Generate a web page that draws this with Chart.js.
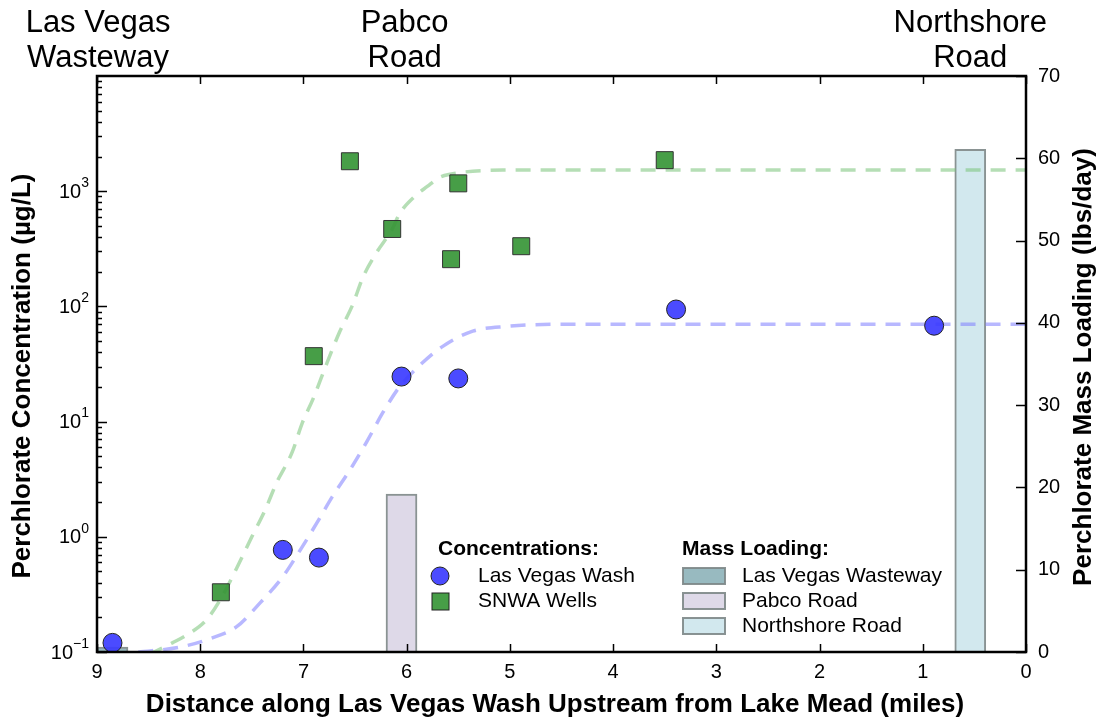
<!DOCTYPE html>
<html>
<head>
<meta charset="utf-8">
<script src="https://cdn.jsdelivr.net/npm/chart.js@4.4.0/dist/chart.umd.min.js"></script>
<style>
  html, body { margin: 0; padding: 0; background: #fff; }
  #wrap { width: 1100px; height: 721px; }
</style>
</head>
<body>
<div id="wrap"><canvas id="chart"></canvas></div>
<script>
const FONT = '"Liberation Sans", Arial, sans-serif';

// Concentrations (ug/L) vs distance upstream (miles)
const washX = [8.85, 7.2, 6.85, 6.05, 5.5, 3.39, 0.89];
const washY = [0.12, 0.77, 0.66, 24.6, 23.7, 94, 68];
const wellsX = [7.8, 6.9, 6.55, 6.14, 5.57, 5.5, 4.89, 3.5];
const wellsY = [0.33, 37, 1820, 470, 257, 1170, 333, 1860];

// dashed fitted curves
const wellsFitX = [8.5, 8.27, 8.1, 7.94, 7.81, 7.64, 7.5, 7.37, 7.26, 7.11, 7.01, 6.91, 6.77, 6.65, 6.53, 6.42, 6.29, 6.14, 6.07, 5.92, 5.8, 5.68, 5.58, 5.36, 5.07, 4.5, 0];
const wellsFitY = [0.095, 0.12, 0.146, 0.19, 0.28, 0.55, 1.0, 1.72, 2.95, 5.4, 9.8, 15.5, 32.6, 60, 100, 182, 295, 468, 635, 905, 1100, 1320, 1405, 1490, 1525, 1530, 1530];
const washFitX = [8.6, 8.2, 7.89, 7.65, 7.42, 7.2, 7.03, 6.87, 6.72, 6.55, 6.39, 6.23, 6.07, 5.87, 5.65, 5.36, 5.03, 4.5, 0];
const washFitY = [0.1, 0.11, 0.132, 0.165, 0.267, 0.45, 0.77, 1.32, 2.23, 3.8, 6.6, 12, 20, 31, 45, 61, 67, 70, 70];

// mass loading (lbs/day)
const massNames = ['Las Vegas Wasteway', 'Pabco Road', 'Northshore Road'];
const massX = [8.85, 6.05, 0.54];
const massLoad = [0.6, 19.2, 61.1];
const massFill = ['rgb(152,186,192)', 'rgb(222,217,232)', 'rgb(210,232,238)'];

// site labels on top
const siteNames = [['Las Vegas', 'Wasteway'], ['Pabco', 'Road'], ['Northshore', 'Road']];
const siteX = [8.99, 6.02, 0.54];

// ticks
const xTicks = [9, 8, 7, 6, 5, 4, 3, 2, 1, 0];
const yTicks = [0.1, 1, 10, 100, 1000];
const y2Ticks = [0, 10, 20, 30, 40, 50, 60, 70];

const washColor = 'rgba(60,60,255,0.92)';
const wellsColor = 'rgba(55,150,55,0.92)';
const barEdge = 'rgba(125,135,135,0.9)';

function pts(xs, ys) {
    return xs.map((v, i) => ({ x: v, y: ys[i] }));
}

const overlay = {
    id: 'overlay',
    afterDatasetsDraw(chart) {
        const { ctx, chartArea: a, scales } = chart;
        const x = scales.x, y = scales.y, y2 = scales.y2;
        ctx.save();
        ctx.strokeStyle = '#000';
        ctx.lineWidth = 1.5;
        ctx.beginPath();
        xTicks.forEach(v => {
            const px = Math.round(x.getPixelForValue(v)) + 0.5;
            ctx.moveTo(px, a.bottom); ctx.lineTo(px, a.bottom - 8);
            ctx.moveTo(px, a.top); ctx.lineTo(px, a.top + 8);
        });
        for (let e = -1; e < 4; e++) {
            for (let m = 1; m < 10; m++) {
                const py = Math.round(y.getPixelForValue(m * Math.pow(10, e))) + 0.5;
                ctx.moveTo(a.left, py); ctx.lineTo(a.left + (m === 1 ? 10 : 5), py);
            }
        }
        y2Ticks.forEach(v => {
            const py = Math.round(y2.getPixelForValue(v)) + 0.5;
            ctx.moveTo(a.right, py); ctx.lineTo(a.right - 10, py);
        });
        ctx.stroke();
        ctx.lineWidth = 2.5;
        ctx.strokeRect(a.left, a.top, a.right - a.left, a.bottom - a.top);

        // left log tick labels with superscripts
        ctx.fillStyle = '#000';
        ctx.textBaseline = 'middle';
        ctx.textAlign = 'right';
        yTicks.forEach(v => {
            const py = y.getPixelForValue(v);
            const e = Math.round(Math.log10(v));
            const ex = e < 0 ? '\u2212' + (-e) : String(e);
            ctx.font = '14px ' + FONT;
            const ew = ctx.measureText(ex).width;
            ctx.fillText(ex, 89, py - 8);
            ctx.font = '20px ' + FONT;
            ctx.fillText('10', 89 - ew, py + 1);
        });
        ctx.restore();
    },
    afterDraw(chart) {
        const { ctx, chartArea: a, scales } = chart;
        ctx.save();
        ctx.fillStyle = '#000';
        ctx.textAlign = 'center';
        ctx.textBaseline = 'middle';

        // site names
        ctx.font = '31px ' + FONT;
        siteNames.forEach((lines, i) => {
            const px = scales.x.getPixelForValue(siteX[i]);
            ctx.fillText(lines[0], px, 23);
            ctx.fillText(lines[1], px, 58);
        });

        // axis titles
        ctx.font = 'bold 26px ' + FONT;
        ctx.fillText('Distance along Las Vegas Wash Upstream from Lake Mead (miles)', 555, 705);
        ctx.save();
        ctx.translate(23, 376);
        ctx.rotate(-Math.PI / 2);
        ctx.fillText('Perchlorate Concentration (\u00b5g/L)', 0, 0);
        ctx.restore();
        ctx.save();
        ctx.translate(1084, 367);
        ctx.rotate(-Math.PI / 2);
        ctx.fillText('Perchlorate Mass Loading (lbs/day)', 0, 0);
        ctx.restore();

        // legend
        ctx.textAlign = 'left';
        ctx.font = 'bold 21px ' + FONT;
        ctx.fillText('Concentrations:', 438, 549);
        ctx.fillText('Mass Loading:', 682, 549);
        ctx.font = '21px ' + FONT;
        ctx.fillText('Las Vegas Wash', 478, 576);
        ctx.fillText('SNWA Wells', 478, 601);

        ctx.lineWidth = 1;
        ctx.strokeStyle = '#222';
        ctx.fillStyle = washColor;
        ctx.beginPath();
        ctx.arc(440, 576, 9, 0, Math.PI * 2);
        ctx.fill(); ctx.stroke();
        ctx.fillStyle = wellsColor;
        ctx.fillRect(432, 593, 17, 17);
        ctx.strokeRect(432, 593, 17, 17);

        ctx.lineWidth = 2;
        ctx.strokeStyle = barEdge;
        massNames.forEach((name, i) => {
            const cy = 576 + i * 25;
            ctx.fillStyle = massFill[i];
            ctx.fillRect(683, cy - 8, 42, 16);
            ctx.strokeRect(683, cy - 8, 42, 16);
            ctx.fillStyle = '#000';
            ctx.fillText(name, 742, cy);
        });
        ctx.restore();
    }
};

const barSets = massNames.map((name, i) => ({
    type: 'bar',
    label: name,
    yAxisID: 'y2',
    data: [{ x: massX[i], y: massLoad[i] }],
    backgroundColor: massFill[i],
    borderColor: barEdge,
    borderWidth: 2,
    barThickness: 31,
    grouped: false,
    order: 3
}));

new Chart(document.getElementById('chart'), {
    type: 'bar',
    data: {
        datasets: [
            {
                type: 'line', label: 'SNWA fit', yAxisID: 'y',
                data: pts(wellsFitX, wellsFitY),
                borderColor: 'rgba(120,195,120,0.55)', borderWidth: 3.5, borderDash: [15, 10],
                pointRadius: 0, fill: false, cubicInterpolationMode: 'monotone', order: 2
            },
            {
                type: 'line', label: 'LVW fit', yAxisID: 'y',
                data: pts(washFitX, washFitY),
                borderColor: 'rgba(125,125,255,0.55)', borderWidth: 3.5, borderDash: [15, 10],
                pointRadius: 0, fill: false, cubicInterpolationMode: 'monotone', order: 2
            },
            {
                type: 'scatter', label: 'SNWA Wells', yAxisID: 'y',
                data: pts(wellsX, wellsY),
                pointStyle: 'rect', pointRadius: 12, backgroundColor: wellsColor,
                borderColor: '#333', borderWidth: 1, order: 1
            },
            {
                type: 'scatter', label: 'Las Vegas Wash', yAxisID: 'y',
                data: pts(washX, washY),
                pointStyle: 'circle', pointRadius: 9.5, backgroundColor: washColor,
                borderColor: '#222', borderWidth: 1, order: 0
            },
            ...barSets
        ]
    },
    options: {
        responsive: true,
        maintainAspectRatio: false,
        animation: false,
        layout: { padding: { top: 76, left: 0, right: 0, bottom: 0 } },
        plugins: { legend: { display: false }, tooltip: { enabled: false } },
        scales: {
            x: {
                type: 'linear', min: 0, max: 9, reverse: true, offset: false,
                grid: { display: false, drawTicks: false }, border: { display: false },
                afterBuildTicks: s => { s.ticks = xTicks.map(v => ({ value: v })); },
                ticks: { font: { size: 20, family: FONT }, color: '#000', padding: 8, maxRotation: 0, autoSkip: false },
                afterFit: s => { s.height = 69; }
            },
            y: {
                type: 'logarithmic', position: 'left', min: 0.1, max: 10000,
                grid: { display: false, drawTicks: false }, border: { display: false },
                afterBuildTicks: s => { s.ticks = yTicks.map(v => ({ value: v })); },
                ticks: { display: false },
                afterFit: s => { s.width = 97; }
            },
            y2: {
                type: 'linear', position: 'right', min: 0, max: 70,
                grid: { display: false, drawTicks: false }, border: { display: false },
                afterBuildTicks: s => { s.ticks = y2Ticks.map(v => ({ value: v })); },
                ticks: { font: { size: 20, family: FONT }, color: '#000', padding: 12 },
                afterFit: s => { s.width = 74; }
            }
        }
    },
    plugins: [overlay]
});
</script>
</body>
</html>
